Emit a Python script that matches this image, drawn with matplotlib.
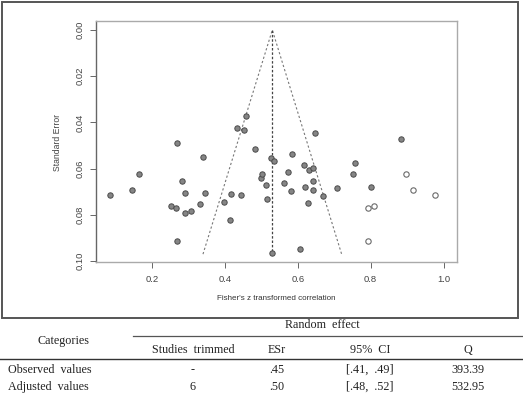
import matplotlib
matplotlib.use("Agg")
import matplotlib.pyplot as plt
from matplotlib.lines import Line2D
from matplotlib.patches import Rectangle
import numpy as np

# observed studies (Fisher's z, standard error)
obs_z = [0.084, 0.144, 0.164, 0.251, 0.266, 0.268, 0.268, 0.283, 0.290, 0.289,
         0.308, 0.332, 0.340, 0.344, 0.398, 0.414, 0.416, 0.432, 0.445, 0.452,
         0.459, 0.482, 0.498, 0.502, 0.513, 0.516, 0.526, 0.535, 0.530, 0.563,
         0.573, 0.582, 0.585, 0.606, 0.617, 0.620, 0.627, 0.631, 0.642, 0.643,
         0.643, 0.647, 0.668, 0.707, 0.751, 0.757, 0.802, 0.882]
obs_se = [0.0715, 0.0694, 0.0624, 0.0764, 0.0769, 0.0491, 0.0916, 0.0653, 0.0704, 0.0793,
          0.0782, 0.0753, 0.0549, 0.0707, 0.0743, 0.0824, 0.0710, 0.0423, 0.0714, 0.0435,
          0.0374, 0.0517, 0.0640, 0.0623, 0.0672, 0.0731, 0.0556, 0.0566, 0.0968, 0.0663,
          0.0613, 0.0699, 0.0539, 0.0949, 0.0585, 0.0681, 0.0749, 0.0608, 0.0597, 0.0653,
          0.0694, 0.0447, 0.0717, 0.0685, 0.0624, 0.0577, 0.0681, 0.0474]
# trim-and-fill imputed studies
fill_z = [0.793, 0.793, 0.808, 0.896, 0.916, 0.976]
fill_se = [0.0916, 0.0769, 0.0764, 0.0624, 0.0694, 0.0715]

center = 0.53
se_max = 0.0971

# table
col_heads = ["Studies  trimmed", "ESr", "95%  CI", "Q"]
row_labels = ["Observed  values", "Adjusted  values"]
cells = [["-", ".45", "[.41,  .49]", "393.39"],
         ["6", ".50", "[.48,  .52]", "532.95"]]

W, H = 523, 393
fig = plt.figure(figsize=(W/100, H/100), dpi=100, facecolor="white")

def fx(px): return px / W
def fy(py): return 1 - py / H

ax = fig.add_axes([fx(96), fy(262), fx(457) - fx(96), fy(21) - fy(262)])
ax.set_xlim(0.046, 1.037)
ax.set_ylim(0.1005, -0.0039)

sans = "Liberation Sans"
# funnel
ax.plot([center - 1.96*se_max, center, center + 1.96*se_max], [se_max, 0, se_max],
        ls=(0, (2, 2)), color="#777777", lw=0.8)
ax.plot([center, center], [0, se_max], ls=(0, (2, 1.5)), color="#444444", lw=0.9)

ax.scatter(obs_z, obs_se, s=15, facecolor="#858585", edgecolor="#4a4a4a", lw=0.7, zorder=3)
ax.scatter(fill_z, fill_se, s=15, facecolor="white", edgecolor="#6a6a6a", lw=0.8, zorder=3)

ax.set_xticks([0.2, 0.4, 0.6, 0.8, 1.0])
ax.set_xticklabels(["0.2", "0.4", "0.6", "0.8", "1.0"], family=sans, fontsize=6.8, color="#444444")
ax.set_yticks([0.0, 0.02, 0.04, 0.06, 0.08, 0.10])
ax.set_yticklabels(["0.00", "0.02", "0.04", "0.06", "0.08", "0.10"], family=sans, fontsize=6.8,
                   color="#444444", rotation=90, va="center")
ax.tick_params(axis="x", length=4, width=0.7, color="#666666", pad=5)
ax.tick_params(axis="y", length=4, width=0.7, color="#666666", pad=4)
for s in ax.spines.values():
    s.set_color("#aaaaaa")
    s.set_linewidth(1.0)
ax.spines["left"].set_color("#666666")

fig.text(fx(58), fy(142), "Standard Error", rotation=90, ha="center", va="center",
         family=sans, fontsize=6.2, color="#444444")
fig.text(fx(276), fy(299), "Fisher's z transformed correlation", ha="center", va="center",
         family=sans, fontsize=5.8, color="#333333")

# outer frame
fig.patches.append(Rectangle((fx(1.5), fy(318)), fx(518) - fx(1.5), fy(1.5) - fy(318),
                             transform=fig.transFigure, fill=False, edgecolor="#555555", lw=1.4))

serif = "Liberation Serif"
tc = "#222222"
fs = 8.7
fig.text(fx(322), fy(325), "Random  effect", ha="center", va="center", family=serif, fontsize=fs, color=tc)
fig.lines.append(Line2D([fx(133), fx(523)], [fy(336), fy(336)], transform=fig.transFigure,
                        color="#555555", lw=0.9))
fig.text(fx(64), fy(341), "Categories", ha="center", va="center", family=serif, fontsize=fs, color=tc)
col_x = [193, 277, 370, 468]
for x, h in zip(col_x, col_heads):
    fig.text(fx(x), fy(350), h, ha="center", va="center", family=serif, fontsize=fs, color=tc)
fig.lines.append(Line2D([0, 1], [fy(359), fy(359)], transform=fig.transFigure,
                        color="#333333", lw=1.0))
for ry, lab, row in zip([370, 387], row_labels, cells):
    fig.text(fx(8), fy(ry), lab, ha="left", va="center", family=serif, fontsize=fs, color=tc)
    for x, v in zip(col_x, row):
        fig.text(fx(x), fy(ry), v, ha="center", va="center", family=serif, fontsize=fs, color=tc)

fig.savefig("out.png", dpi=100)
